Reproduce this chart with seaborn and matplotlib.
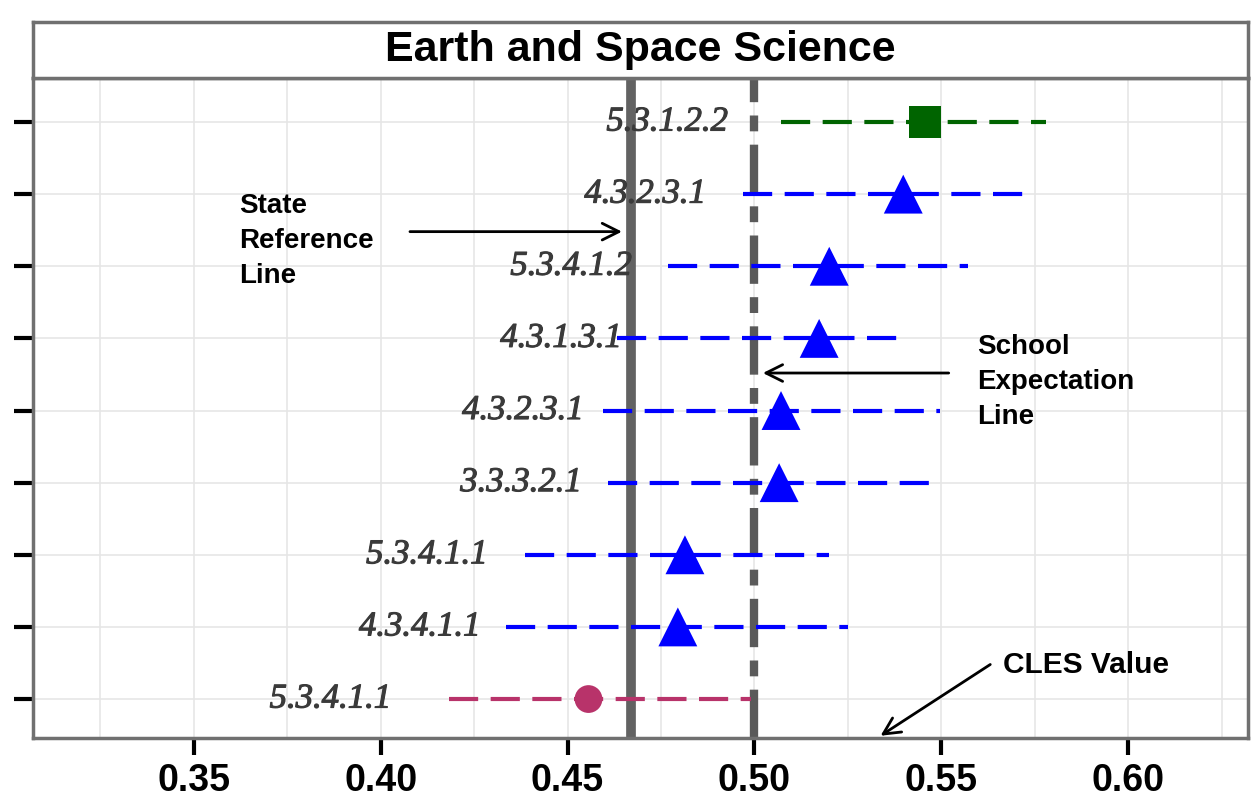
import matplotlib.pyplot as plt
import matplotlib.patheffects as pe
from matplotlib.ticker import MultipleLocator
import seaborn as sns
import pandas as pd
import numpy as np

sns.set_style('white')
plt.rcParams['font.family'] = ['Liberation Sans', 'DejaVu Sans']
plt.rcParams['text.color'] = 'black'
plt.rcParams['xtick.color'] = 'black'
plt.rcParams['ytick.color'] = 'black'

# data, top row first
labels = ['5.3.1.2.2', '4.3.2.3.1', '5.3.4.1.2', '4.3.1.3.1', '4.3.2.3.1',
          '3.3.3.2.1', '5.3.4.1.1', '4.3.4.1.1', '5.3.4.1.1']
cles = [0.5457, 0.5398, 0.5200, 0.5173, 0.5071, 0.5066, 0.4814, 0.4795, 0.4556]
lower = [0.5071, 0.4969, 0.4768, 0.4631, 0.4594, 0.4607, 0.4387, 0.4334, 0.4184]
upper = [0.5779, 0.5747, 0.5572, 0.5398, 0.5497, 0.5497, 0.5200, 0.5251, 0.4991]
group = ['above', 'near', 'near', 'near', 'near', 'near', 'near', 'near', 'below']
state_ref = 0.467
school_exp = 0.50

colors = {'above': '#006400', 'near': '#0000FF', 'below': '#B8336A'}
markers = {'above': 's', 'near': '^', 'below': 'o'}
sizes = {'above': 23, 'near': 28, 'below': 20}

df = pd.DataFrame({'label': labels, 'cles': cles, 'lower': lower,
                   'upper': upper, 'group': group})
df['row'] = np.arange(len(df), 0, -1)

fig = plt.figure(figsize=(12.59, 8), dpi=100)
ax = fig.add_axes([0.0262, 0.0775, 0.965, 0.825])

ax.set_xlim(0.307, 0.632)
ax.set_ylim(0.46, 9.61)
ax.xaxis.set_major_locator(MultipleLocator(0.05))
ax.xaxis.set_minor_locator(MultipleLocator(0.025))
ax.set_yticks(df['row'])
ax.set_yticklabels([])
ax.grid(which='both', axis='x', color='#e6e6e6', lw=1.2)
ax.grid(which='major', axis='y', color='#e6e6e6', lw=1.2)
ax.set_axisbelow(True)

ax.axvline(state_ref, color='#626262', lw=7, zorder=2)
ax.axvline(school_exp, color='#5a5a5a', lw=6, ls=(0, (5.8, 1.6, 1.9, 1.6)), zorder=2)

for _, r in df.iterrows():
    c = colors[r['group']]
    ax.plot([r['lower'], r['upper']], [r['row'], r['row']], color=c, lw=3,
            ls=(0, (7, 3)), zorder=3)
    ax.text(r['cles'] - 0.069, r['row'], r['label'], ha='center', va='center',
            fontsize=25, style='italic', family='Liberation Serif',
            color='#3a3a3a', zorder=5,
            path_effects=[pe.withStroke(linewidth=0.8, foreground='#3a3a3a')])

sns.scatterplot(data=df, x='cles', y='row', hue='group', style='group',
                palette=colors, markers=markers, size='group', sizes={k: v ** 2 for k, v in sizes.items()},
                linewidth=0, legend=False, ax=ax, zorder=4)

for s in ax.spines.values():
    s.set_color('#707070')
    s.set_linewidth(2.5)
ax.tick_params(axis='x', which='major', length=12, width=3, color='black',
               labelsize=27, pad=6, bottom=True)
ax.tick_params(axis='x', which='minor', length=0)
ax.tick_params(axis='y', length=14, width=3, color='black', left=True)
for t in ax.get_xticklabels():
    t.set_fontweight('bold')
ax.set_xlabel('')
ax.set_ylabel('')

# annotations
arrow = dict(arrowstyle='->', color='black', lw=2, mutation_scale=30)
ax.annotate('', xy=(0.4653, 7.48), xytext=(0.4071, 7.48), arrowprops=arrow)
ax.text(0.3621, 7.35, 'State\nReference\nLine', ha='left', va='center',
        fontsize=20, fontweight='bold', linespacing=1.45)
ax.annotate('', xy=(0.5015, 5.52), xytext=(0.5527, 5.52), arrowprops=arrow)
ax.text(0.5595, 5.39, 'School\nExpectation\nLine', ha='left', va='center',
        fontsize=20, fontweight='bold', linespacing=1.45)
ax.annotate('', xy=(0.5331, 0.47), xytext=(0.5637, 1.5), arrowprops=arrow)
ax.text(0.5666, 1.47, 'CLES Value', ha='left', va='center',
        fontsize=21.5, fontweight='bold')

# facet strip
sax = fig.add_axes([0.0262, 0.9025, 0.965, 0.07])
sax.set_xticks([])
sax.set_yticks([])
for s in sax.spines.values():
    s.set_color('#707070')
    s.set_linewidth(2.5)
sax.text(0.5, 0.5, 'Earth and Space Science', ha='center', va='center',
         fontsize=31, fontweight='bold', transform=sax.transAxes)

plt.savefig('out.png', dpi=100)
